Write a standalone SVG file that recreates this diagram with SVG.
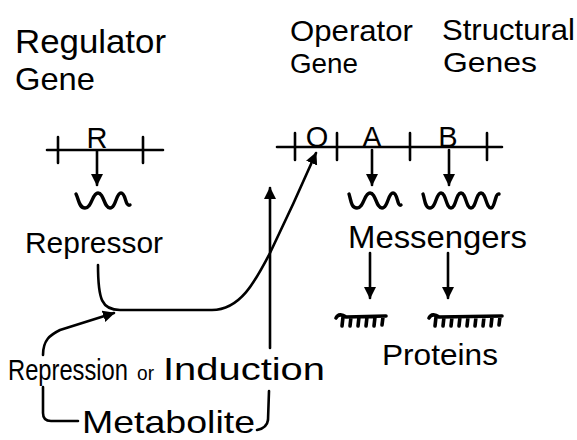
<svg xmlns="http://www.w3.org/2000/svg" width="577" height="440" viewBox="0 0 577 440">
<style>
text{font-family:"Liberation Sans","DejaVu Sans",sans-serif;fill:#000}
.ln{fill:none;stroke:#000;stroke-width:2.6;stroke-linecap:round;stroke-linejoin:round}
.wave{fill:none;stroke:#000;stroke-width:3.4;stroke-linecap:round;stroke-linejoin:round}
.coil{fill:none;stroke:#000;stroke-width:3.6;stroke-linecap:round;stroke-linejoin:round}
</style>
<defs>
<marker id="ah" markerUnits="userSpaceOnUse" markerWidth="14" markerHeight="14" refX="11" refY="6" orient="auto">
<path d="M0,0 L12,6 L0,12 Z" fill="#000"/>
</marker>
</defs>
<rect width="577" height="440" fill="#fff"/>

<g id="regulator-label">
<text x="15" y="53" font-size="34" textLength="151" lengthAdjust="spacingAndGlyphs">Regulator</text>
<text x="15" y="90" font-size="32" textLength="80" lengthAdjust="spacingAndGlyphs">Gene</text>
</g>
<g id="operator-label">
<text x="290" y="41" font-size="29" textLength="123" lengthAdjust="spacingAndGlyphs">Operator</text>
<text x="290" y="73" font-size="28" textLength="68" lengthAdjust="spacingAndGlyphs">Gene</text>
</g>
<g id="structural-label">
<text x="442" y="40" font-size="29" textLength="133" lengthAdjust="spacingAndGlyphs">Structural</text>
<text x="443" y="72" font-size="28" textLength="94" lengthAdjust="spacingAndGlyphs">Genes</text>
</g>

<g id="regulator-gene">
<path class="ln" d="M47,150 L163,150 M58,137 L58,163 M143,137 L143,163"/>
<text x="97" y="148" font-size="29" text-anchor="middle">R</text>
</g>

<g id="operon-genes">
<path class="ln" d="M277,147 L502,147 M295,133 L295,160 M337,133 L337,160 M410,133 L410,160 M487,133 L487,160"/>
<text x="317" y="147" font-size="29" text-anchor="middle">O</text>
<text x="372" y="147" font-size="29" text-anchor="middle">A</text>
<text x="448" y="147" font-size="29" text-anchor="middle">B</text>
</g>

<g id="repressor-mrna">
<path class="wave" d="M76,194 C79,200 79,208 85,208 C92,208 92,193 98,193 C104,193 104,208 110,208 C116,208 116,193 121,193 C126,193 125,207 130,205"/>
</g>
<g id="repressor">
<text x="25" y="253" font-size="30" textLength="138" lengthAdjust="spacingAndGlyphs">Repressor</text>
</g>

<g id="messenger-a">
<path class="wave" d="M349,194 C351,200 351,208 357,208 C364,208 364,193 370,193 C376,193 376,208 382,208 C388,208 388,193 393,193 C398,193 397,207 401,205"/>
</g>
<g id="messenger-b">
<path class="wave" d="M423,194 C425,200 425,208 430,208 C436,208 436,193 441,193 C446,193 446,208 451,208 C456,208 456,193 461,193 C466,193 466,208 471,208 C476,208 476,193 481,193 C486,193 486,208 491,208 C495,208 495,193 499,194"/>
</g>
<g id="messengers">
<text x="348" y="248" font-size="32" textLength="179" lengthAdjust="spacingAndGlyphs">Messengers</text>
</g>

<g id="protein-a">
<path class="coil" d="M336,318 C338,314 342,314 346,317 L386,316 M343,317 L342,326 M351,317 L350,326 M359,317 L358,326 M367,317 L366,326 M375,317 L374,326 M383,317 L382,325"/>
</g>
<g id="protein-b">
<path class="coil" d="M429,318 C431,314 435,314 439,317 L502,316 M436,317 L435,326 M444,317 L443,326 M452,317 L451,326 M460,317 L459,326 M468,317 L467,326 M476,317 L475,326 M484,317 L483,326 M492,317 L491,326 M500,317 L499,325"/>
</g>
<g id="proteins">
<text x="382" y="365" font-size="30" textLength="116" lengthAdjust="spacingAndGlyphs">Proteins</text>
</g>

<g id="repression-induction">
<text transform="translate(8,380) scale(1,1.2)" x="0" y="0" font-size="24" textLength="120" lengthAdjust="spacingAndGlyphs">Repression</text>
<text x="137" y="380" font-size="20" textLength="17" lengthAdjust="spacingAndGlyphs">or</text>
<text x="163" y="380" font-size="32" textLength="162" lengthAdjust="spacingAndGlyphs">Induction</text>
</g>
<g id="metabolite">
<text x="82" y="433" font-size="32" textLength="173" lengthAdjust="spacingAndGlyphs">Metabolite</text>
</g>

<g id="connectors">
<path class="ln" d="M97,151 L97,185" marker-end="url(#ah)"/>
<path class="ln" d="M372,150 L372,185" marker-end="url(#ah)"/>
<path class="ln" d="M449,150 L449,185" marker-end="url(#ah)"/>
<path class="ln" d="M370,253 L370,298" marker-end="url(#ah)"/>
<path class="ln" d="M448,253 L448,298" marker-end="url(#ah)"/>
<path class="ln" d="M98,265 C98,300 102,310 120,310 L212,310 C240,310 255,282 270,253 C285,222 302,185 316,153" marker-end="url(#ah)"/>
<path class="ln" d="M270,348 L270,188" marker-end="url(#ah)"/>
<path class="ln" d="M43,355 C43,340 50,335 60,330 L114,313" marker-end="url(#ah)"/>
<path class="ln" d="M43,387 L43,413 Q43,421 51,421 L78,421"/>
<path class="ln" d="M257,430 Q267,428 268,420 L269,391"/>
</g>
</svg>
